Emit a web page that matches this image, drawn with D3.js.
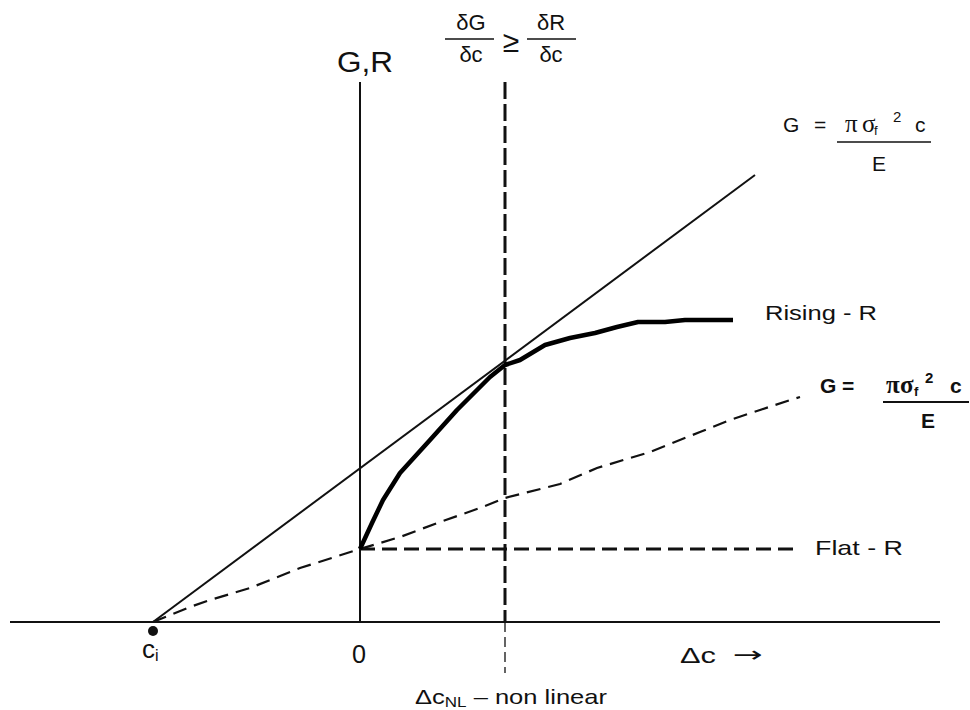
<!DOCTYPE html>
<html>
<head>
    <title>Rising R vs Flat R</title>
    <style>
        body { margin: 0; background: #fff; }
        text { font-family: "Liberation Sans", Arial, sans-serif; fill: #111; }
        .sym { font-family: "Liberation Serif", "Times New Roman", serif; }
        .arrow { font-family: "DejaVu Sans", sans-serif; }
    </style>
</head>
<body>
    <script src="https://d3js.org/d3.v7.min.js"></script>
    <script>
        // Axis extents (delta c units, G/R units)
        const xDomain = [-3.5, 5.8];
        const yDomain = [0, 5.4];

        // Initial crack length and onset of non-linearity
        const ci = -2.07;
        const dcNL = 1.45;

        // G = pi sigma^2 c / E at the higher stress (solid line)
        const gHighX = [-2.07, 3.95];
        const gHighY = [0, 4.47];

        // G at the lower stress (thin dashed line)
        const gLowX = [-2.07, -1.70, -1.50, -1.10, -0.60, 0.00, 0.40, 0.80, 1.20, 1.45, 2.00, 2.37, 2.90, 3.40, 3.70, 4.00, 4.15, 4.40];
        const gLowY = [0.00, 0.15, 0.22, 0.34, 0.54, 0.73, 0.85, 1.00, 1.14, 1.24, 1.38, 1.54, 1.70, 1.90, 2.02, 2.12, 2.17, 2.25];

        // Rising R-curve (thick line)
        const risingX = [0.00, 0.12, 0.23, 0.40, 0.70, 0.97, 1.30, 1.45, 1.60, 1.85, 2.10, 2.35, 2.57, 2.78, 3.05, 3.25, 3.73];
        const risingY = [0.73, 0.99, 1.22, 1.49, 1.82, 2.12, 2.45, 2.57, 2.62, 2.77, 2.84, 2.89, 2.95, 3.00, 3.00, 3.02, 3.02];

        // Flat R-curve (thick dashed line)
        const flatX = [0.00, 4.40];
        const flatY = [0.73, 0.73];

        const width = 970;
        const height = 710;

        const svg = d3.select('body')
            .append('svg')
            .attr('width', width)
            .attr('height', height);

        const x = d3.scaleLinear().domain(xDomain).range([10, 940]);
        const y = d3.scaleLinear().domain(yDomain).range([622, 82]);

        const zip = (xs, ys) => xs.map((v, i) => [v, ys[i]]);
        const line = d3.line().x(d => x(d[0])).y(d => y(d[1]));

        // axes
        svg.append('line')
            .attr('x1', x(xDomain[0])).attr('x2', x(xDomain[1]))
            .attr('y1', y(0)).attr('y2', y(0))
            .attr('stroke', '#111').attr('stroke-width', 2);
        svg.append('line')
            .attr('x1', x(0)).attr('x2', x(0))
            .attr('y1', y(0)).attr('y2', y(yDomain[1]))
            .attr('stroke', '#111').attr('stroke-width', 2);

        // non linear onset marker
        svg.append('line')
            .attr('x1', x(dcNL)).attr('x2', x(dcNL))
            .attr('y1', y(yDomain[1])).attr('y2', y(0))
            .attr('stroke', '#111').attr('stroke-width', 3)
            .attr('stroke-dasharray', '17,5');
        svg.append('line')
            .attr('x1', x(dcNL)).attr('x2', x(dcNL))
            .attr('y1', y(0)).attr('y2', y(0) + 51)
            .attr('stroke', '#111').attr('stroke-width', 1.3)
            .attr('stroke-dasharray', '10,5');

        // curves
        svg.append('path')
            .attr('d', line(zip(gHighX, gHighY)))
            .attr('fill', 'none').attr('stroke', '#111').attr('stroke-width', 2);

        svg.append('path')
            .attr('d', line(zip(gLowX, gLowY)))
            .attr('fill', 'none').attr('stroke', '#111').attr('stroke-width', 2.2)
            .attr('stroke-dasharray', '14,8');

        svg.append('path')
            .attr('d', line(zip(flatX, flatY)))
            .attr('fill', 'none').attr('stroke', '#111').attr('stroke-width', 3)
            .attr('stroke-dasharray', '15,7');

        svg.append('path')
            .attr('d', line(zip(risingX, risingY)))
            .attr('fill', 'none').attr('stroke', '#000').attr('stroke-width', 4.5)
            .attr('stroke-linejoin', 'round');

        // ci point
        svg.append('circle')
            .attr('cx', x(ci)).attr('cy', y(0) + 9)
            .attr('r', 5).attr('fill', '#111');

        // helper for text
        function label(px, py, size, anchor, weight, len) {
            const t = svg.append('text')
                .attr('x', px).attr('y', py)
                .attr('font-size', size)
                .attr('text-anchor', anchor || 'start')
                .attr('font-weight', weight || 'normal');
            if (len) t.attr('textLength', len).attr('lengthAdjust', 'spacingAndGlyphs');
            return t;
        }
        function hline(x1, x2, yy, w) {
            svg.append('line').attr('x1', x1).attr('x2', x2).attr('y1', yy).attr('y2', yy)
                .attr('stroke', '#111').attr('stroke-width', w);
        }

        label(337, 72, 29, 'start', 'normal', 56).text('G,R');

        // top condition dG/dc >= dR/dc
        label(471, 30, 22, 'middle').text('\u03B4G');
        label(471, 62, 22, 'middle').text('\u03B4c');
        hline(445, 494, 39, 1.5);
        label(511, 52, 30, 'middle').text('\u2265');
        label(551, 30, 22, 'middle').text('\u03B4R');
        label(551, 62, 22, 'middle').text('\u03B4c');
        hline(527, 576, 39, 1.5);

        // G formulae, glyphs placed one by one
        function formula(p, weight) {
            label(p.g, p.base, 21, 'start', weight).text('G');
            label(p.eq, p.base, 21, 'start', weight).text('=');
            label(p.pi, p.base, 25, 'start', weight).attr('class', 'sym').text('\u03C0');
            label(p.sig, p.base, 25, 'start', weight).attr('class', 'sym').text('\u03C3');
            label(p.f, p.base + 3, 13, 'start', weight).text('f');
            label(p.two, p.base - 10, 15, 'start', weight).text('2');
            label(p.c, p.base, 21, 'start', weight).text('c');
            hline(p.x1, p.x2, p.lineY, weight === 'bold' ? 2.2 : 1.5);
            label(p.e, p.eBase, 21, 'middle', weight).text('E');
        }
        formula({ g: 783, eq: 814, pi: 845, sig: 862, f: 874, two: 893, c: 915,
                  base: 132, x1: 837, x2: 931, lineY: 142, e: 879, eBase: 171 }, 'normal');
        formula({ g: 820, eq: 842, pi: 886, sig: 900, f: 914, two: 925, c: 950,
                  base: 393, x1: 883, x2: 969, lineY: 402, e: 928, eBase: 428 }, 'bold');

        label(765, 320, 21, 'start', 'normal', 112).text('Rising - R');
        label(815, 555, 21, 'start', 'normal', 88).text('Flat - R');

        // bottom labels
        const ciText = label(142, 658, 26);
        ciText.append('tspan').text('c');
        ciText.append('tspan').attr('font-size', 16).attr('dy', 3).text('i');

        label(359, 663, 25, 'middle', 'normal', 14).text('0');
        label(680, 663, 22, 'start', 'normal', 36).text('\u0394c');
        label(733, 662, 22, 'start', 'normal', 30).attr('class', 'arrow').text('\u2192');

        const nl = label(415, 704, 21, 'start', 'normal', 192);
        nl.append('tspan').text('\u0394c');
        nl.append('tspan').attr('font-size', 14).attr('dy', 3).text('NL');
        nl.append('tspan').attr('dy', -3).text(' \u2013 non linear');
    </script>
</body>
</html>
